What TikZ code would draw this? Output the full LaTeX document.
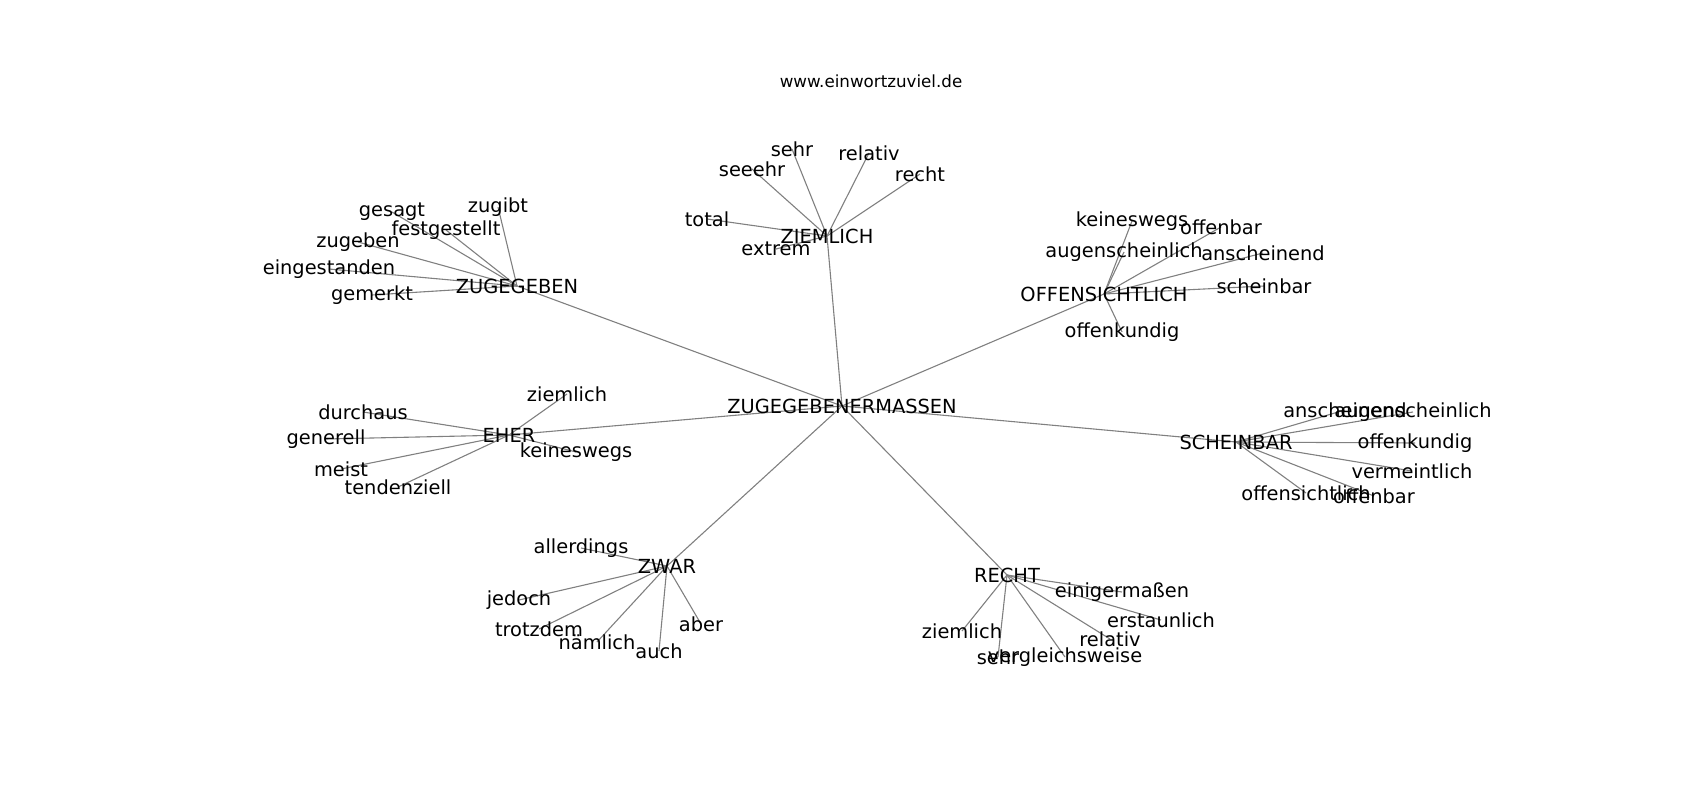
\documentclass[tikz,border=0pt]{standalone}
\usepackage{fontspec}
\setmainfont{DejaVu Sans}
\usetikzlibrary{backgrounds}

\begin{document}
\begin{tikzpicture}[x=1pt,y=-1pt,
		word/.style={inner sep=0pt,font=\fontsize{19.4}{23}\selectfont},
		link/.style={draw=black!50,line width=1.1pt}]
	\useasboundingbox (0,0) rectangle (1700,800);
	\node[inner sep=0pt,font=\fontsize{16.7}{20}\selectfont] (title) at (871,81) {www.einwortzuviel.de};
	% hub nodes
	\node[word] (zgm) at (842,406)   {ZUGEGEBENERMASSEN};
	\node[word] (zug) at (517,286)   {ZUGEGEBEN};
	\node[word] (zie) at (827,236)   {ZIEMLICH};
	\node[word] (off) at (1104,294)  {OFFENSICHTLICH};
	\node[word] (ehe) at (509,435)   {EHER};
	\node[word] (sch) at (1236,442)  {SCHEINBAR};
	\node[word] (zwa) at (667,566)   {ZWAR};
	\node[word] (rec) at (1007,575)  {RECHT};
	% ZUGEGEBEN
	\node[word] (zug1) at (498,207)  {zugibt};
	\node[word] (zug2) at (392,212)  {gesagt};
	\node[word] (zug3) at (446,230)  {festgestellt};
	\node[word] (zug4) at (358,242)  {zugeben};
	\node[word] (zug5) at (329,269)  {eingestanden};
	\node[word] (zug6) at (372,295)  {gemerkt};
	% ZIEMLICH
	\node[word] (zie1) at (792,149)  {sehr};
	\node[word] (zie2) at (869,153)  {relativ};
	\node[word] (zie3) at (920,174)  {recht};
	\node[word] (zie4) at (752,169)  {seeehr};
	\node[word] (zie5) at (707,219)  {total};
	\node[word] (zie6) at (776,249)  {extrem};
	% OFFENSICHTLICH
	\node[word] (off1) at (1132,221) {keineswegs};
	\node[word] (off2) at (1221,227) {offenbar};
	\node[word] (off3) at (1124,252) {augenscheinlich};
	\node[word] (off4) at (1263,253) {anscheinend};
	\node[word] (off5) at (1264,286) {scheinbar};
	\node[word] (off6) at (1122,332) {offenkundig};
	% EHER
	\node[word] (ehe1) at (567,394)  {ziemlich};
	\node[word] (ehe2) at (363,412)  {durchaus};
	\node[word] (ehe3) at (326,439)  {generell};
	\node[word] (ehe4) at (341,469)  {meist};
	\node[word] (ehe5) at (398,487)  {tendenziell};
	\node[word] (ehe6) at (576,452)  {keineswegs};
	% SCHEINBAR
	\node[word] (sch1) at (1345,410) {anscheinend};
	\node[word] (sch2) at (1413,412) {augenscheinlich};
	\node[word] (sch3) at (1415,443) {offenkundig};
	\node[word] (sch4) at (1412,471) {vermeintlich};
	\node[word] (sch5) at (1306,493) {offensichtlich};
	\node[word] (sch6) at (1374,496) {offenbar};
	% ZWAR
	\node[word] (zwa1) at (581,548)  {allerdings};
	\node[word] (zwa2) at (519,600)  {jedoch};
	\node[word] (zwa3) at (539,629)  {trotzdem};
	\node[word] (zwa4) at (597,642)  {nämlich};
	\node[word] (zwa5) at (659,651)  {auch};
	\node[word] (zwa6) at (701,624)  {aber};
	% RECHT
	\node[word] (rec1) at (1122,592) {einigermaßen};
	\node[word] (rec2) at (1161,620) {erstaunlich};
	\node[word] (rec3) at (962,631)  {ziemlich};
	\node[word] (rec4) at (1110,639) {relativ};
	\node[word] (rec5) at (998,657)  {sehr};
	\node[word] (rec6) at (1065,657) {vergleichsweise};
	\begin{scope}[on background layer]
		\foreach \h in {zug,zie,off,ehe,sch,zwa,rec}{
			\path[link] (zgm.center) edge (\h.center);
			\foreach \i in {1,...,6}
				\path[link] (\h.center) edge (\h\i.center);
		}
	\end{scope}
\end{tikzpicture}
\end{document}
